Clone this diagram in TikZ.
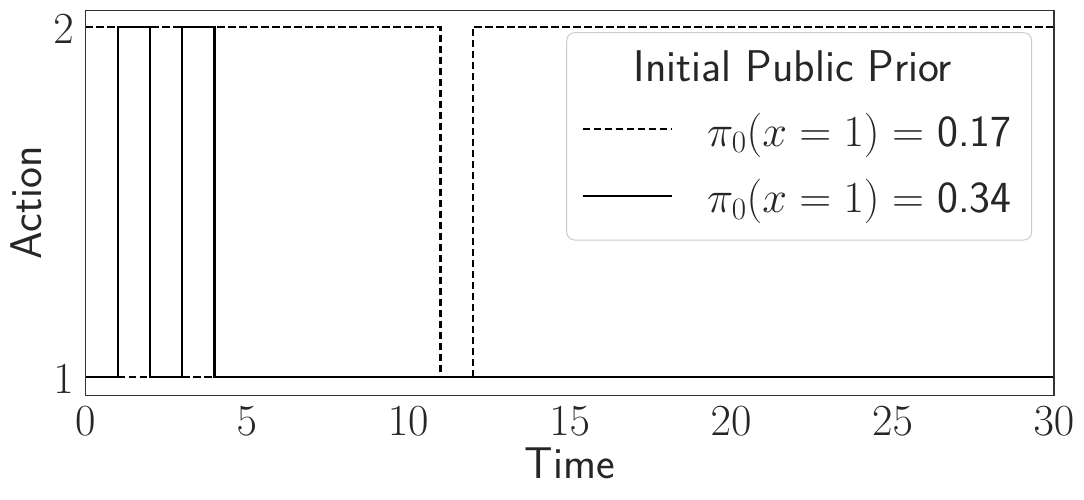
\RequirePackage{fix-cm}
\documentclass[tikz,border=0pt]{standalone}
\definecolor{txt}{HTML}{262626}
\definecolor{frame}{HTML}{333333}
\definecolor{legframe}{HTML}{CCCCCC}
\tikzset{
  dashline/.style={line width=2.08pt, black, dash pattern=on 7.7pt off 3.3pt},
  solidline/.style={line width=2.08pt, black},
  lbl/.style={inner sep=0pt, text=txt},
}
\begin{document}
\begin{tikzpicture}[x=1pt,y=-1pt,font=\fontsize{44.4}{53}\selectfont]
\useasboundingbox (0,0) rectangle (1084,499);
\fill[white] (0,0) rectangle (1084,499);
% data coordinates
\coordinate (a0) at (85.3,376.7);  \coordinate (b0) at (85.3,26.7);
\coordinate (a1) at (117.6,376.7); \coordinate (b1) at (117.6,26.7);
\coordinate (a2) at (149.9,376.7); \coordinate (b2) at (149.9,26.7);
\coordinate (a3) at (182.2,376.7); \coordinate (b3) at (182.2,26.7);
\coordinate (a4) at (214.5,376.7); \coordinate (b4) at (214.5,26.7);
\coordinate (a11) at (440.5,376.7); \coordinate (b11) at (440.5,26.7);
\coordinate (a12) at (472.8,376.7); \coordinate (b12) at (472.8,26.7);
\coordinate (a30) at (1054,376.7); \coordinate (b30) at (1054,26.7);
% dashed series
\draw[dashline] (b0) -- (b11) -- (a11) -- (a12) -- (b12) -- (b30);
\draw[dashline] (a1) -- (a2);
\draw[dashline] (a3) -- (a4);
% solid series
\draw[solidline] (a0) -- (a1) -- (b1) -- (b2) -- (a2) -- (a3) -- (b3) -- (b4) -- (a4) -- (a30);
% frame
\draw[frame, line width=1.3pt] (85.3,10.3) rectangle (1054,395.3);
% ticks labels
\foreach \v/\px in {0/85.3,5/246.8,10/408.2,15/569.7,20/731.1,25/892.6,30/1054}
  \node[lbl, anchor=base] (xt\v) at (\px,435) {$\v$};
\node[lbl, anchor=base east] (yt2) at (74,43.3) {$2$};
\node[lbl, anchor=base east] (yt1) at (74,393.3) {$1$};
\node[lbl, anchor=base] (xlab) at (569.7,478.3) {\sffamily Time};
\node[lbl, anchor=base, rotate=90] (ylab) at (41.7,202.8) {\sffamily Action};
% legend
\draw[legframe, fill=white, fill opacity=0.8, line width=1pt, rounded corners=8pt] (566.7,32.7) rectangle (1031.7,240);
\node[lbl, anchor=base] (legtitle) at (793,81.7) {\sffamily Initial Public Prior};
\coordinate (l1s) at (582.7,129); \coordinate (l1e) at (671.7,129);
\coordinate (l2s) at (582.7,195.7); \coordinate (l2e) at (671.7,195.7);
\draw[dashline] (l1s) -- (l1e);
\draw[solidline] (l2s) -- (l2e);
\node[lbl, anchor=base west] (leg1) at (707,146) {$\pi_0(x=1)=$ \sffamily 0.17};
\node[lbl, anchor=base west] (leg2) at (707,212.7) {$\pi_0(x=1)=$ \sffamily 0.34};
\end{tikzpicture}
\end{document}
